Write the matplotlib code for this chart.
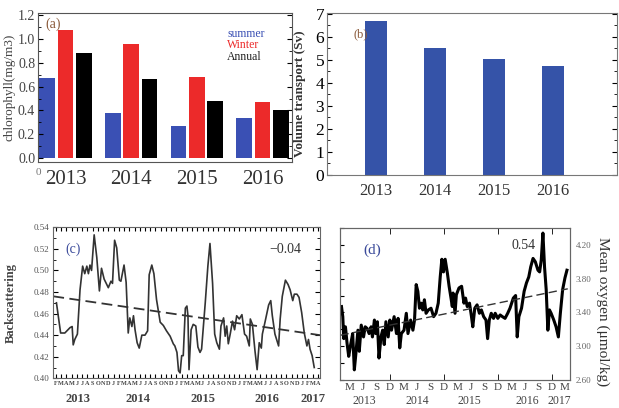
import matplotlib
matplotlib.use("Agg")
import matplotlib.pyplot as plt
from matplotlib.ticker import MultipleLocator, FixedLocator
import numpy as np

plt.rcParams['font.family'] = ['Liberation Serif', 'DejaVu Serif']

# ---- data -----------------------------------------------------------
years = ['2013', '2014', '2015', '2016']
chl_summer = [0.67, 0.38, 0.27, 0.335]
chl_winter = [1.075, 0.955, 0.684, 0.47]
chl_annual = [0.88, 0.665, 0.48, 0.40]
transport = [6.68, 5.52, 5.06, 4.73]

# backscattering, months counted from Jan 2013 (0 = Jan 2013)
bbp_month = [1.1, 1.9, 2.7, 3.7, 4.1, 4.3, 4.6, 5.1, 5.6, 6.1, 6.5, 6.9, 7.2, 7.5,
             7.8, 8.3, 8.8, 9.3, 9.7, 10.2, 10.7, 11.0, 11.5, 11.8, 12.2, 12.6,
             13.1, 13.4, 14.0, 14.4, 14.8, 15.1, 15.5, 15.8, 16.1, 16.5, 16.9,
             17.4, 18.0, 18.5, 18.8, 19.3, 19.7, 20.2, 20.9, 21.5, 22.1, 22.8,
             23.4, 23.7, 24.1, 24.4, 24.7, 25.0, 25.3, 25.7, 26.0, 26.2, 26.4,
             26.8, 27.2, 27.7, 28.1, 28.5, 28.8, 29.5, 30.0, 30.4, 30.9, 31.3,
             31.7, 32.2, 32.5, 33.0, 33.3, 33.6, 33.9, 34.3, 34.7, 35.1, 35.5,
             36.0, 36.5, 37.0, 37.4, 37.9, 38.1, 38.5, 39.0, 39.4, 39.8, 40.2,
             40.4, 40.9, 41.6, 42.0, 42.3, 42.8, 43.5, 43.8, 44.2, 44.8, 45.3,
             45.7, 46.2, 46.5, 47.0, 47.4, 47.9, 48.4, 48.9, 49.2, 49.5, 49.9, 50.3]
bbp_value = [0.470, 0.442, 0.442, 0.447, 0.448, 0.431, 0.436, 0.441, 0.482, 0.504,
             0.497, 0.504, 0.497, 0.505, 0.500, 0.533, 0.512, 0.481, 0.502, 0.492,
             0.487, 0.484, 0.490, 0.488, 0.528, 0.521, 0.491, 0.490, 0.505, 0.489,
             0.442, 0.456, 0.448, 0.458, 0.445, 0.433, 0.428, 0.440, 0.440, 0.444,
             0.496, 0.505, 0.497, 0.473, 0.452, 0.449, 0.444, 0.439, 0.432, 0.430,
             0.424, 0.407, 0.405, 0.421, 0.421, 0.465, 0.467, 0.458, 0.408, 0.445,
             0.450, 0.4485, 0.429, 0.424, 0.427, 0.470, 0.504, 0.525, 0.488, 0.441,
             0.433, 0.427, 0.4485, 0.456, 0.439, 0.4485, 0.432, 0.442, 0.453, 0.445,
             0.458, 0.455, 0.459, 0.441, 0.439, 0.430, 0.455, 0.450, 0.425, 0.408,
             0.433, 0.428, 0.441, 0.452, 0.468, 0.472, 0.458, 0.441, 0.430, 0.455,
             0.476, 0.491, 0.487, 0.482, 0.472, 0.478, 0.478, 0.475, 0.461, 0.442,
             0.430, 0.436, 0.427, 0.421, 0.410]
bbp_trend_month = [0.5, 51.4]
bbp_trend_value = [0.476, 0.440]

# mean oxygen
oxy_month = [0.23, 0.52, 0.74, 1.11, 1.48, 1.84, 2.21, 2.72, 3.09, 3.45, 3.89, 4.19,
             4.63, 5.14, 5.51, 5.95, 6.38, 6.82, 7.12, 7.56, 7.85, 8.22, 8.58, 9.02,
             9.39, 9.75, 10.12, 10.63, 11.0, 11.37, 11.95, 12.47, 12.83, 13.2, 13.56,
             14.15, 14.66, 15.03, 15.62, 16.13, 16.49, 16.86, 17.23, 17.59, 17.96,
             18.33, 18.69, 19.06, 19.57, 20.16, 20.74, 21.26, 21.77, 22.21, 22.57,
             22.94, 23.31, 23.82, 24.19, 24.55, 24.9, 25.07, 25.51, 25.8, 26.39,
             26.97, 27.49, 27.85, 28.22, 28.73, 29.17, 29.46, 29.9, 30.42, 30.93,
             31.37, 31.88, 32.4, 32.76, 33.13, 33.57, 34.08, 34.45, 35.03, 35.55,
             36.06, 36.64, 37.23, 37.74, 38.48, 38.99, 39.35, 39.72, 40.31, 40.89,
             41.41, 41.92, 42.36, 42.87, 43.38, 43.97, 44.34, 44.7, 45.07, 45.43,
             45.8, 46.17, 46.53, 46.9, 47.49, 48.0, 48.51, 48.95, 49.46, 49.98, 50.42]
oxy_value = [3.47, 3.35, 3.09, 3.23, 3.03, 2.88, 3.00, 3.15, 2.72, 2.92, 3.19, 2.94,
             3.25, 3.11, 3.23, 3.21, 3.15, 3.23, 3.11, 3.31, 3.15, 3.29, 2.86, 3.11,
             3.19, 3.02, 3.29, 3.11, 3.31, 3.19, 3.35, 3.15, 3.33, 2.98, 3.15,
             3.19, 3.39, 3.15, 3.31, 3.19, 3.31, 3.73, 3.65, 3.45, 3.51,
             3.43, 3.55, 3.39, 3.43, 3.45, 3.35, 3.39, 3.51, 3.82, 4.03,
             3.88, 4.03, 3.86, 3.71, 3.59, 3.47, 3.63, 3.39, 3.61, 3.69,
             3.71, 3.51, 3.57, 3.47, 3.51, 3.35, 3.23, 3.45, 3.49, 3.39,
             3.43, 3.35, 3.31, 3.09, 3.31, 3.39, 3.33, 3.39, 3.33, 3.37,
             3.35, 3.33, 3.39, 3.45, 3.57, 3.60, 3.11, 3.35, 3.45, 3.65,
             3.75, 3.82, 3.94, 4.04, 4.00, 3.90, 3.88, 4.02, 4.34, 3.94,
             3.67, 3.19, 3.43, 3.39, 3.31, 3.23, 3.11, 3.39, 3.67, 3.81, 3.90]
oxy_trend_month = [0.0, 50.6]
oxy_trend_value = [3.13, 3.68]

month_letters = 'JFMAMJJASOND'
blue = '#3a50b4'
red = '#ec2a2a'

W, H = 619, 408
fig = plt.figure(figsize=(W / 100, H / 100), dpi=100)


def rect(l, r, t, b):
    return [l / W, 1 - b / H, (r - l) / W, (b - t) / H]


# ---- (a) chlorophyll bars ---------------------------------------------
ax = fig.add_axes(rect(38, 292, 12.7, 161.7))
x = np.arange(len(years))
ax.bar(x - 0.28, chl_summer, 0.24, color=blue)
ax.bar(x, chl_winter, 0.24, color=red)
ax.bar(x + 0.28, chl_annual, 0.24, color='black')
ax.set_xlim(-0.42, 3.45)
ax.set_ylim(-0.03, 1.22)
ax.set_yticks(np.arange(0, 1.21, 0.2))
ax.set_yticklabels(['%.1f' % v for v in np.arange(0, 1.21, 0.2)], color='#444')
ax.yaxis.set_minor_locator(MultipleLocator(0.1))
ax.set_xticks(x)
ax.set_xticklabels(years, fontsize=15, color='#333')
ax.tick_params(axis='x', length=0, pad=6)
ax.tick_params(axis='y', which='both', direction='in', right=True, labelsize=10, pad=2)
ax.set_ylabel('chlorophyll(mg/m3)', fontsize=9.5, color='#444')
ax.yaxis.set_label_coords(-0.09, 0.5)
ax.text(0.03, 0.9, '(a)', transform=ax.transAxes, fontsize=10, color='#8a5a3a')
ax.text(0.745, 0.84, 'summer', transform=ax.transAxes, fontsize=8.5, color=blue)
ax.text(0.745, 0.765, 'Winter', transform=ax.transAxes, fontsize=8.5, color=red)
ax.text(0.745, 0.68, 'Annual', transform=ax.transAxes, fontsize=8.5, color='#222')
for s in ax.spines.values():
    s.set_color('#555')
fig.text(38 / W, 1 - 172 / H, '0', fontsize=8, color='#777', ha='center', va='center')

# ---- (b) volume transport ---------------------------------------------
ax = fig.add_axes(rect(327, 617, 12.7, 175))
ax.bar(x, transport, 0.38, color='#3553a8')
ax.set_xlim(-0.83, 4.08)
ax.set_ylim(0, 7.05)
ax.set_yticks(range(0, 8))
ax.yaxis.set_minor_locator(MultipleLocator(0.5))
ax.set_xticks(x)
ax.set_xticklabels(years, fontsize=12, color='#333')
ax.tick_params(axis='x', length=0, pad=6)
ax.tick_params(axis='y', which='both', direction='in', right=True, labelsize=12.5, pad=2)
ax.set_ylabel('Volume transport (Sv)', fontsize=9.5, fontweight='bold', color='#333')
ax.yaxis.set_label_coords(-0.072, 0.5)
ax.text(0.09, 0.85, '(b)', transform=ax.transAxes, fontsize=9, color='#8a5a3a')
for s in ax.spines.values():
    s.set_color('#777')

# ---- (c) backscattering -----------------------------------------------
ax = fig.add_axes(rect(53.3, 320, 227.3, 378.3))
ax.plot(bbp_month, bbp_value, color='#333', lw=1.2)
ax.plot(bbp_trend_month, bbp_trend_value, color='#333', lw=1.3, ls=(0, (6, 3)))
ax.set_xlim(0.5, 51.4)
ax.set_ylim(0.40, 0.54)
ax.set_yticks(np.arange(0.40, 0.541, 0.02))
ax.set_yticklabels(['%.2f' % v for v in np.arange(0.40, 0.541, 0.02)], color='#555')
ax.yaxis.set_minor_locator(MultipleLocator(0.01))
mticks = list(range(1, 52))
ax.set_xticks(mticks)
ax.set_xticklabels([month_letters[m % 12] for m in mticks], fontsize=4.5,
                   fontweight='bold', color='#444')
ax.tick_params(axis='x', direction='in', top=True, length=3, pad=2)
ax.tick_params(axis='y', which='both', direction='in', right=True, labelsize=6.5, pad=3)
ax.set_ylabel('Backscattering', fontsize=9, fontweight='bold', color='#444')
ax.yaxis.set_label_coords(-0.135, 0.5)
for yr, mm in zip(['2013', '2014', '2015', '2016', '2017'], [5.2, 16.6, 29.1, 41.3, 50.1]):
    ax.text(mm, -0.14, yr, transform=ax.get_xaxis_transform(), fontsize=9,
            fontweight='bold', color='#444', ha='center', va='center')
ax.text(0.045, 0.83, '(c)', transform=ax.transAxes, fontsize=10, color='#3a4a9a')
ax.text(0.87, 0.83, '\u22120.04', transform=ax.transAxes, fontsize=10, color='#333',
        ha='center')
for s in ax.spines.values():
    s.set_color('#666')

# ---- (d) mean oxygen ----------------------------------------------------
ax = fig.add_axes(rect(340, 570, 228, 380))
ax.plot(oxy_month, oxy_value, color='black', lw=2.2)
ax.plot(oxy_trend_month, oxy_trend_value, color='#333', lw=1.0, ls=(0, (6, 3)))
ax.set_xlim(-0.1, 51.1)
ax.set_ylim(2.6, 4.4)
qticks = list(range(2, 51, 3))
ax.set_xticks(qticks)
ax.set_xticklabels([month_letters[m % 12] for m in qticks], fontsize=8, color='#444')
ax.xaxis.set_minor_locator(FixedLocator([11, 23, 35, 47]))
ax.xaxis.remove_overlapping_locs = False
ax.tick_params(axis='x', which='major', length=0, pad=2)
ax.tick_params(axis='x', which='minor', direction='in', top=True, length=4)
ax.yaxis.set_major_locator(MultipleLocator(0.2))
ax.tick_params(axis='y', direction='in', left=True, right=True, labelleft=False,
               length=3)
ax2 = ax.twinx()
ax2.set_ylim(2.6, 4.4)
ax2.set_yticks([2.6, 3.0, 3.4, 3.8, 4.2])
ax2.set_yticklabels(['2.60', '3.00', '3.40', '3.80', '4.20'], fontsize=6.5, color='#666')
ax2.tick_params(axis='y', length=0, pad=4)
ax2.set_ylabel('Mean oxygen (\u03bcmol/kg)', fontsize=11, color='#333', rotation=270)
ax2.yaxis.set_label_coords(1.17, 0.45)
for yr, mm in zip(['2013', '2014', '2015', '2016', '2017'], [5.4, 17.2, 28.8, 41.7, 48.8]):
    ax.text(mm, -0.137, yr, transform=ax.get_xaxis_transform(), fontsize=8.5,
            color='#444', ha='center', va='center')
ax.text(0.1, 0.83, '(d)', transform=ax.transAxes, fontsize=11, color='#3a4a9a')
ax.text(0.8, 0.86, '0.54', transform=ax.transAxes, fontsize=10, color='#333', ha='center')
for a in (ax, ax2):
    for s in a.spines.values():
        s.set_color('#666')

fig.savefig('out.png', dpi=100)
